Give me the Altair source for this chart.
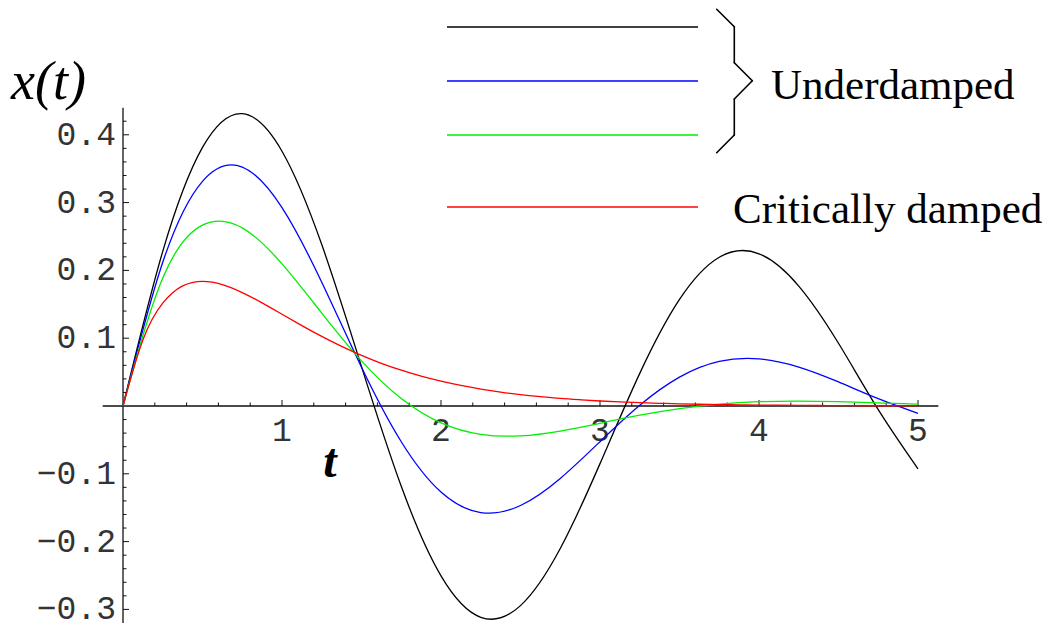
import altair as alt
import pandas as pd

# ---------------------------------------------------------------------------
# Displacement x(t) of a damped oscillator released from rest position with
# unit initial velocity, for three underdamped cases and the critical case.
# ---------------------------------------------------------------------------
t_coarse = [0.0, 0.25, 0.5, 0.75, 1.0, 1.25, 1.5, 1.75, 2.0, 2.25, 2.5,
            2.75, 3.0, 3.25, 3.5, 3.75, 4.0, 4.25, 4.5, 4.75, 5.0]

x_light = [0.0, 0.2281, 0.3814, 0.4312, 0.3758, 0.2381, 0.0581, -0.1184,
           -0.2505, -0.3116, -0.2944, -0.2102, -0.0850, 0.0481, 0.1572,
           0.2194, 0.2245, 0.1769, 0.0925, -0.0054, -0.0927]

x_medium = [0.0, 0.2121, 0.3314, 0.3524, 0.2925, 0.1825, 0.0572, -0.0527,
            -0.1269, -0.1572, -0.1467, -0.1068, -0.0526, 0.0011, 0.0426,
            0.0657, 0.0695, 0.0574, 0.0355, 0.0108, -0.0108]

x_heavy = [0.0, 0.1887, 0.2668, 0.2627, 0.2096, 0.1371, 0.0666, 0.0111,
           -0.0248, -0.0417, -0.0440, -0.0369, -0.0255, -0.0136, -0.0038,
           0.0029, 0.0064, 0.0073, 0.0064, 0.0047, 0.0027]

t_fine = [0.0, 0.125, 0.25, 0.375, 0.5, 0.625, 0.75, 0.875, 1.0, 1.125,
          1.25, 1.375, 1.5, 1.625, 1.75, 1.875, 2.0, 2.125, 2.25, 2.375,
          2.5, 2.625, 2.75, 2.875, 3.0, 3.125, 3.25, 3.375, 3.5, 3.625,
          3.75, 3.875, 4.0, 4.125, 4.25, 4.375, 4.5, 4.625, 4.75, 4.875, 5.0]

x_critical = [0.0, 0.0974, 0.1516, 0.1771, 0.1839, 0.1791, 0.1673, 0.1521,
              0.1353, 0.1186, 0.1026, 0.0879, 0.0747, 0.0630, 0.0528, 0.0441,
              0.0366, 0.0303, 0.0250, 0.0205, 0.0168, 0.0138, 0.0112, 0.0092,
              0.0074, 0.0060, 0.0049, 0.0040, 0.0032, 0.0026, 0.0021, 0.0017,
              0.0013, 0.0011, 0.0009, 0.0007, 0.0006, 0.0004, 0.0004, 0.0003,
              0.0002]

case_names = ["light damping", "medium damping", "heavy damping", "critical damping"]
case_colors = ["#000000", "#0000ff", "#00ee00", "#ff0000"]

# Axis tick labels
x_tick_values = [1, 2, 3, 4, 5]
x_tick_labels = ["1", "2", "3", "4", "5"]
y_tick_values = [-0.3, -0.2, -0.1, 0.1, 0.2, 0.3, 0.4]
y_tick_labels = ["\u22120.3", "\u22120.2", "\u22120.1", "0.1", "0.2", "0.3", "0.4"]

# ---------------------------------------------------------------------------
# Layout: the plot area fills the whole page; scales are fixed so that the
# origin sits at (123, 406) px with 159 px per unit of t and 678 px per unit of x.
# ---------------------------------------------------------------------------
W, H = 1054, 629
xs = alt.Scale(domain=[-0.7736, 5.8553], nice=False, zero=False)
ys = alt.Scale(domain=[-0.3289, 0.5988], nice=False, zero=False)
PX_T = 159.0
PX_X = 678.0
INK = "#111111"
one_row = pd.DataFrame({"k": [0]})

rows = []
for name, ts, vals in [(case_names[0], t_coarse, x_light),
                       (case_names[1], t_coarse, x_medium),
                       (case_names[2], t_coarse, x_heavy),
                       (case_names[3], t_fine, x_critical)]:
    for t, v in zip(ts, vals):
        rows.append({"t": t, "x": v, "case": name})
curves_df = pd.DataFrame(rows)

curves = alt.Chart(curves_df).mark_line(
    interpolate="natural", strokeWidth=1.3
).encode(
    x=alt.X("t:Q", scale=xs, axis=None),
    y=alt.Y("x:Q", scale=ys, axis=None),
    color=alt.Color("case:N", scale=alt.Scale(domain=case_names, range=case_colors),
                    legend=None),
)

# Axis lines crossing at the origin
frame_df = pd.DataFrame({"x0": [-0.128, 0.0], "x1": [5.128, 0.0],
                         "y0": [0.0, -0.32], "y1": [0.0, 0.44]})
frame = alt.Chart(frame_df).mark_rule(color=INK, strokeWidth=1.3).encode(
    x=alt.X("x0:Q", scale=xs, axis=None), x2="x1",
    y=alt.Y("y0:Q", scale=ys, axis=None), y2="y1",
)

# Major and minor tick marks (x ticks point up, y ticks point right)
tick_rows = []
for k in range(1, 26):
    t = round(k * 0.2, 4)
    length = (6.0 if k % 5 == 0 else 3.5) / PX_X
    tick_rows.append({"x0": t, "x1": t, "y0": 0.0, "y1": length})
for k in range(-15, 22):
    if k == 0:
        continue
    v = round(k * 0.02, 4)
    length = (6.0 if k % 5 == 0 else 3.5) / PX_T
    tick_rows.append({"x0": 0.0, "x1": length, "y0": v, "y1": v})
ticks = alt.Chart(pd.DataFrame(tick_rows)).mark_rule(color=INK, strokeWidth=1.0).encode(
    x=alt.X("x0:Q", scale=xs, axis=None), x2="x1",
    y=alt.Y("y0:Q", scale=ys, axis=None), y2="y1",
)

tick_font = dict(font="Liberation Mono", fontSize=33, color="#333333")

x_labels = alt.Chart(pd.DataFrame({"t": x_tick_values, "lab": x_tick_labels})).mark_text(
    align="center", baseline="alphabetic", **tick_font
).encode(
    x=alt.X("t:Q", scale=xs, axis=None),
    y=alt.value(441),
    text="lab:N",
)

y_labels = alt.Chart(pd.DataFrame({"v": y_tick_values, "lab": y_tick_labels})).mark_text(
    align="right", baseline="middle", dy=0, **tick_font
).encode(
    x=alt.value(116),
    y=alt.Y("v:Q", scale=ys, axis=None),
    text="lab:N",
)

# Axis titles
y_title = alt.Chart(one_row).mark_text(
    align="left", baseline="alphabetic", font="Liberation Serif", fontStyle="italic",
    fontSize=54, color="#000000"
).encode(x=alt.value(11), y=alt.value(99), text=alt.value("x(t)"))

x_title = alt.Chart(one_row).mark_text(
    align="center", baseline="alphabetic", font="Liberation Serif", fontStyle="italic",
    fontWeight="bold", fontSize=48, color="#000000"
).encode(x=alt.value(330), y=alt.value(477), text=alt.value("t"))

# Key: sample lines, a brace grouping the underdamped cases, and captions
key_y = [27, 81, 135, 207]
key_layers = []
for yy, col in zip(key_y, case_colors):
    key_layers.append(
        alt.Chart(one_row).mark_rule(color=col, strokeWidth=1.5).encode(
            x=alt.value(447), x2=alt.value(698), y=alt.value(yy)
        )
    )

brace_pts = [(716.7, 9.3), (734.3, 26.7), (734.3, 62.7), (752.3, 80.7),
             (734.3, 99.0), (734.3, 135.0), (716.7, 152.7)]
for (xa, ya), (xb, yb) in zip(brace_pts[:-1], brace_pts[1:]):
    key_layers.append(
        alt.Chart(one_row).mark_rule(color="#000000", strokeWidth=1.6, strokeCap="round").encode(
            x=alt.value(xa), x2=alt.value(xb), y=alt.value(ya), y2=alt.value(yb)
        )
    )

caption_font = dict(font="Liberation Serif", fontSize=43, color="#000000",
                    align="left", baseline="alphabetic")
key_layers.append(
    alt.Chart(one_row).mark_text(**caption_font).encode(
        x=alt.value(771), y=alt.value(99), text=alt.value("Underdamped"))
)
key_layers.append(
    alt.Chart(one_row).mark_text(**caption_font).encode(
        x=alt.value(733), y=alt.value(223), text=alt.value("Critically damped"))
)

chart = alt.layer(
    frame, ticks, x_labels, y_labels, y_title, x_title, curves, *key_layers
).properties(
    width=W, height=H, padding=0,
    autosize=alt.AutoSizeParams(type="none"),
    background="white",
).configure_view(strokeWidth=0)

chart.save("out.html", embed_options={"renderer": "svg", "actions": False})
